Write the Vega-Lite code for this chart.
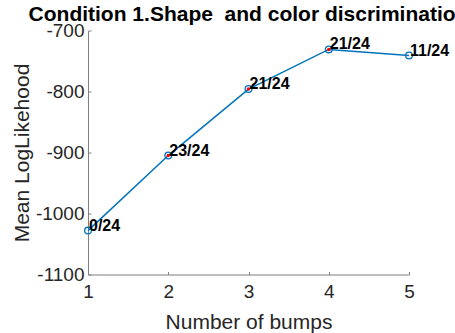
{
  "$schema": "https://vega.github.io/schema/vega-lite/v6.json",
  "autosize": {"type": "none"},
  "padding": {"left": 88, "top": 30.5, "right": 46, "bottom": 58.5},
  "width": 321,
  "height": 244,
  "background": "white",
  "title": {
    "text": "Condition 1.Shape\u00a0 and color discrimination",
    "font": "Liberation Sans",
    "fontSize": 21,
    "fontWeight": "bold",
    "color": "#000000",
    "anchor": "middle",
    "frame": "group",
    "baseline": "alphabetic",
    "offset": 0,
    "dy": 20
  },
  "config": {
    "view": {"stroke": null},
    "axis": {
      "labelFont": "Liberation Sans",
      "titleFont": "Liberation Sans",
      "labelColor": "#262626",
      "titleColor": "#262626",
      "labelFontSize": 19,
      "titleFontSize": 21,
      "titleFontWeight": "normal",
      "domainColor": "#7f7f7f",
      "tickColor": "#7f7f7f",
      "domainWidth": 1,
      "tickWidth": 1,
      "grid": false,
      "labelFlush": false,
      "labelOverlap": false,
      "labelExpr": "datum.value + ''"
    }
  },
  "data": {
    "values": [
      {"bumps": 1, "ll": -1028, "label": "0/24", "sig": false},
      {"bumps": 2, "ll": -905, "label": "23/24", "sig": true},
      {"bumps": 3, "ll": -796, "label": "21/24", "sig": true},
      {"bumps": 4, "ll": -731, "label": "21/24", "sig": true},
      {"bumps": 5, "ll": -741, "label": "11/24", "sig": false}
    ]
  },
  "encoding": {
    "x": {
      "field": "bumps",
      "type": "quantitative",
      "scale": {"domain": [1, 5], "nice": false, "zero": false},
      "axis": {
        "title": "Number of bumps",
        "values": [1, 2, 3, 4, 5],
        "tickSize": -3,
        "labelPadding": 11,
        "titleBaseline": "alphabetic",
        "titleY": 54
      }
    },
    "y": {
      "field": "ll",
      "type": "quantitative",
      "scale": {"domain": [-1100, -700], "nice": false, "zero": false},
      "axis": {
        "title": "Mean LogLikehood",
        "values": [-1100, -1000, -900, -800, -700],
        "tickSize": -3,
        "labelPadding": 7,
        "titleBaseline": "alphabetic",
        "titleX": -60
      }
    }
  },
  "layer": [
    {"mark": {"type": "line", "color": "#0072BD", "strokeWidth": 1.5}},
    {"mark": {"type": "point", "shape": "circle", "filled": false, "color": "#0072BD", "size": 45, "strokeWidth": 1.3, "opacity": 1}},
    {
      "transform": [{"filter": "datum.sig"}],
      "mark": {"type": "point", "shape": "circle", "filled": true, "color": "#FF0000", "size": 12, "opacity": 1}
    },
    {
      "mark": {"type": "text", "align": "left", "baseline": "middle", "dx": 1, "dy": -5, "font": "Liberation Sans", "fontSize": 16, "fontWeight": "bold", "color": "#000000"},
      "encoding": {"text": {"field": "label"}}
    }
  ]
}
